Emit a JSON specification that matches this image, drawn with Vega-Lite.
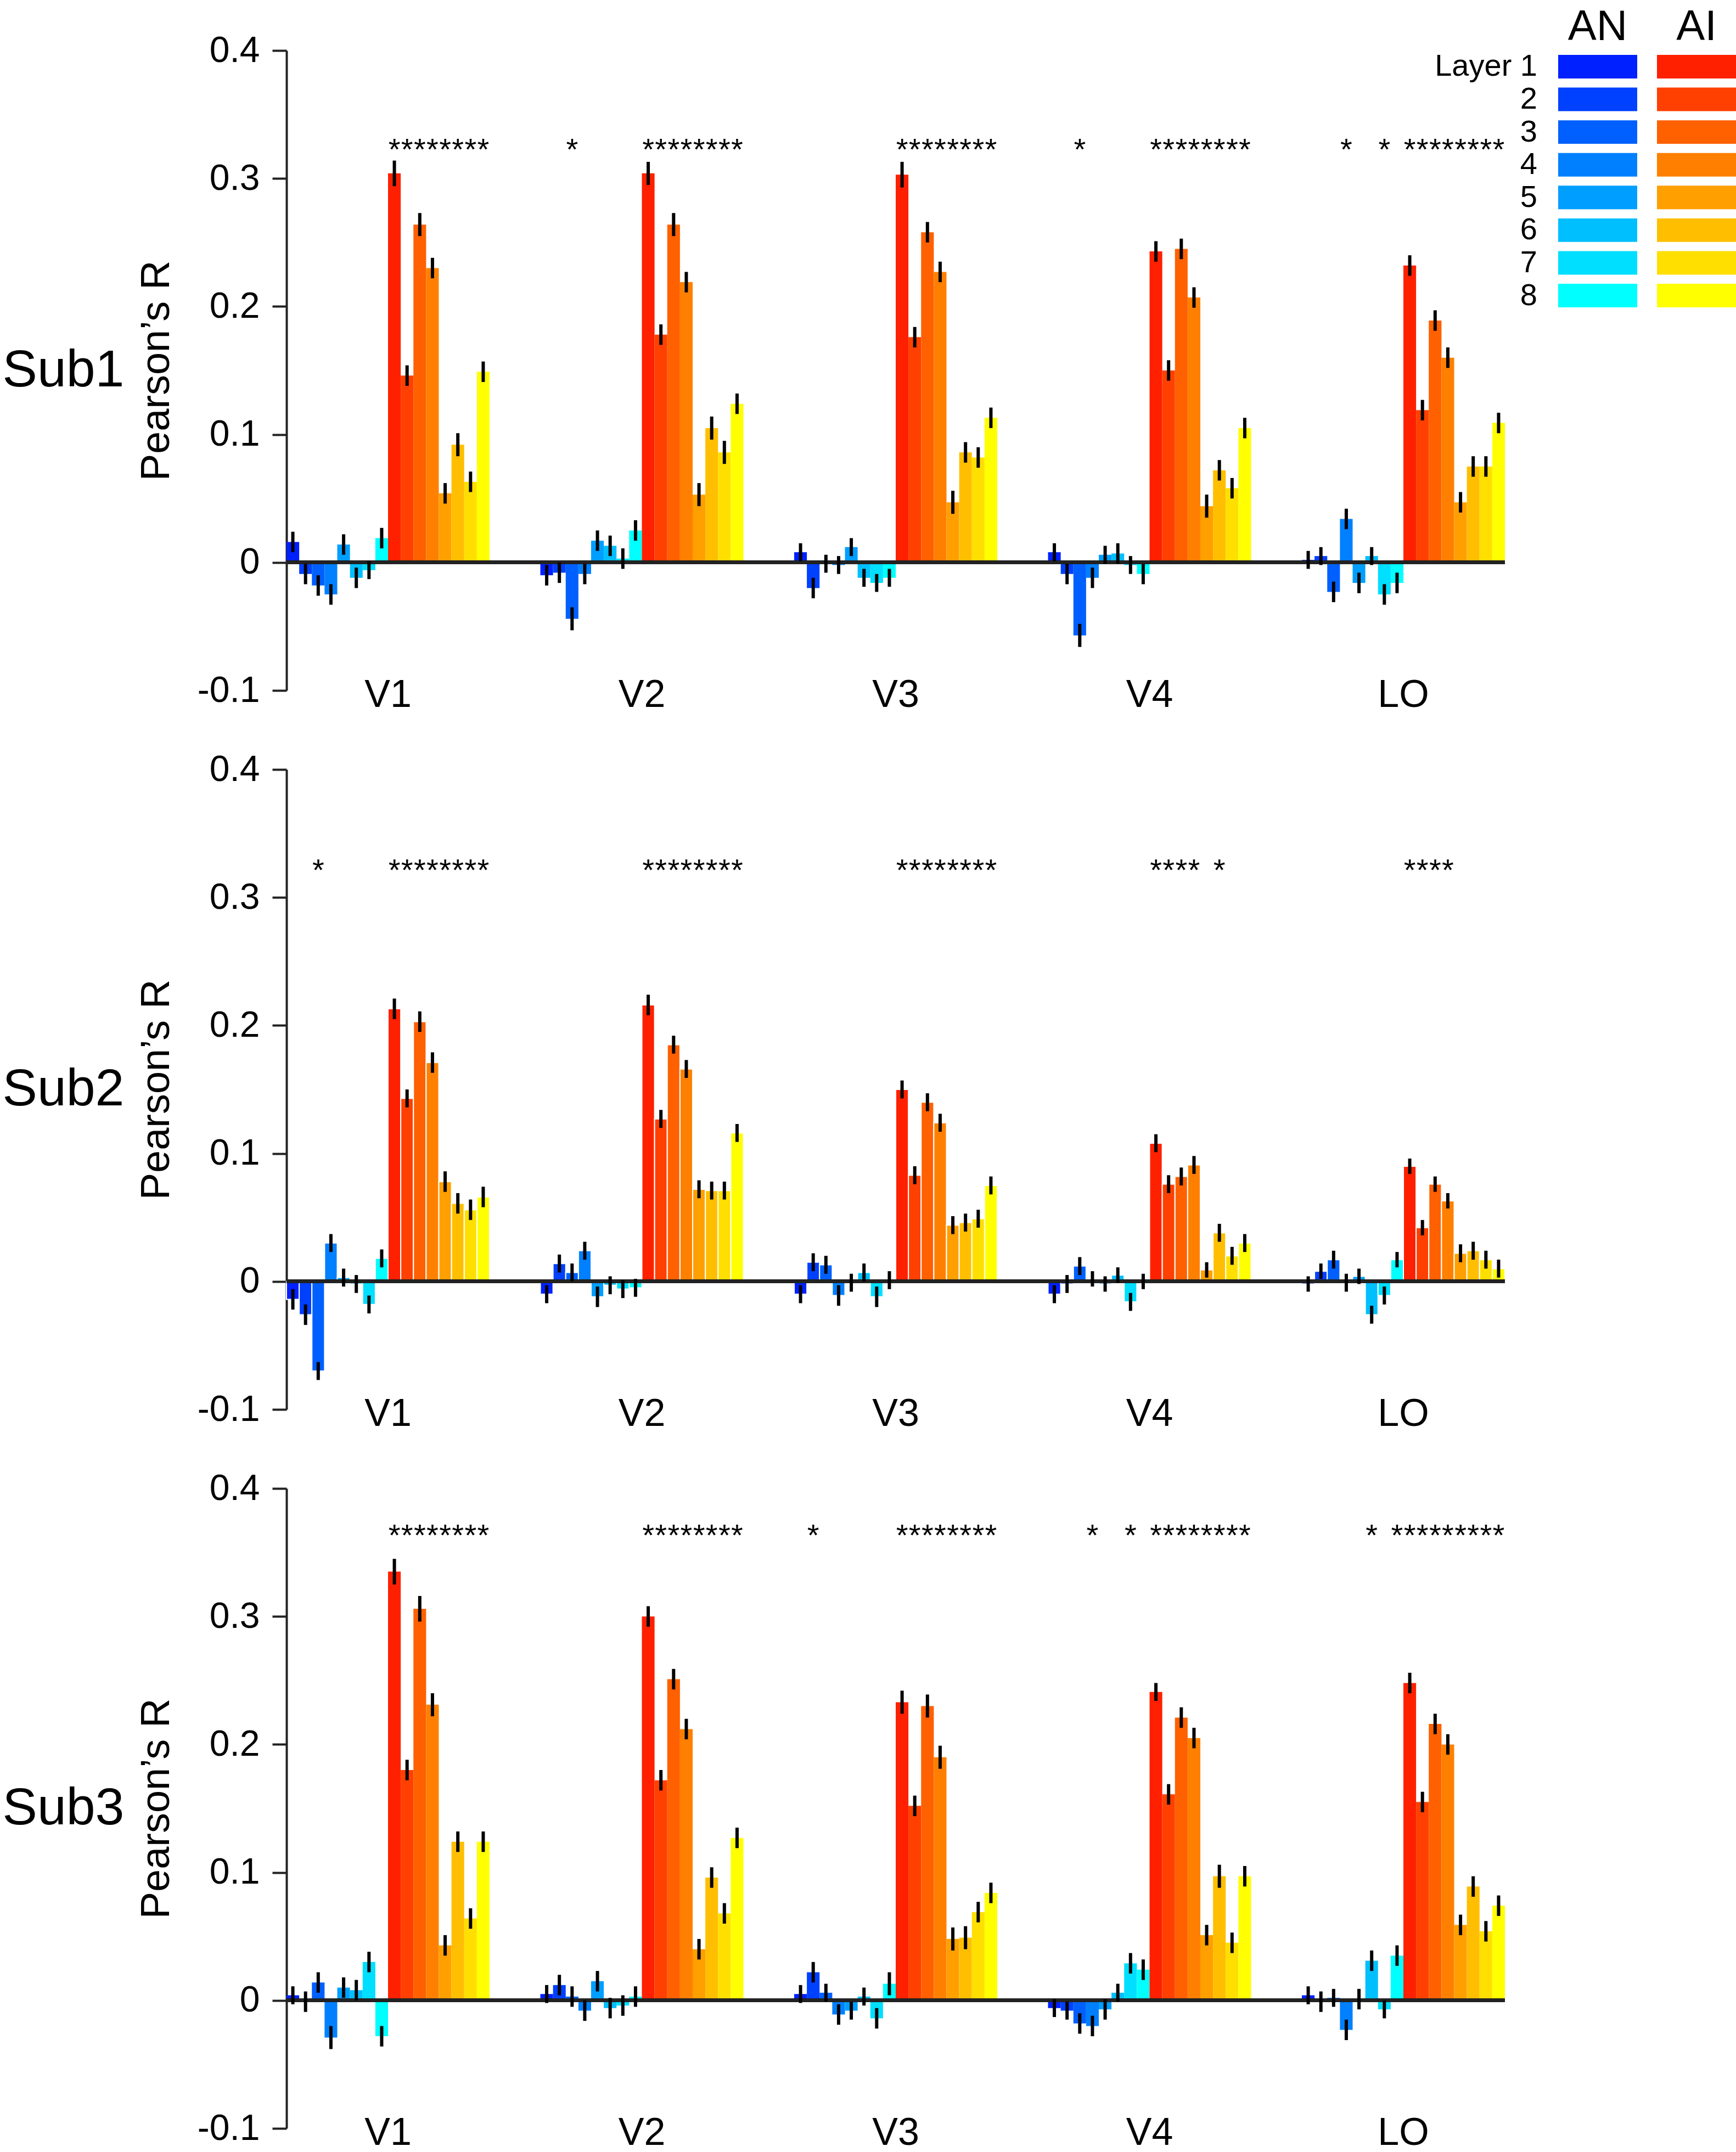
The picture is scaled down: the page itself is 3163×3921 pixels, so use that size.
{
"$schema": "https://vega.github.io/schema/vega-lite/v6.json",
"background": "white",
"padding": {"left": 4, "top": 10, "right": 5, "bottom": 5},
"config": {"font": "Liberation Sans", "view": {"stroke": null}, "text": {"font": "Liberation Sans", "color": "black"}},
"bounds": "flush",
"spacing": 144,
"datasets": {
"legend": [
{"m":"AN","l":1,"k":"AN1","lab":"Layer 1"},{"m":"AN","l":2,"k":"AN2","lab":"2"},{"m":"AN","l":3,"k":"AN3","lab":"3"},{"m":"AN","l":4,"k":"AN4","lab":"4"},
{"m":"AN","l":5,"k":"AN5","lab":"5"},{"m":"AN","l":6,"k":"AN6","lab":"6"},{"m":"AN","l":7,"k":"AN7","lab":"7"},{"m":"AN","l":8,"k":"AN8","lab":"8"},
{"m":"AI","l":1,"k":"AI1","lab":"Layer 1"},{"m":"AI","l":2,"k":"AI2","lab":"2"},{"m":"AI","l":3,"k":"AI3","lab":"3"},{"m":"AI","l":4,"k":"AI4","lab":"4"},
{"m":"AI","l":5,"k":"AI5","lab":"5"},{"m":"AI","l":6,"k":"AI6","lab":"6"},{"m":"AI","l":7,"k":"AI7","lab":"7"},{"m":"AI","l":8,"k":"AI8","lab":"8"}
],
"bars": [
{"s":1,"g":"V1","k":"AN1","r":0.016,"e":0.008,"sig":0},{"s":1,"g":"V1","k":"AN2","r":-0.009,"e":0.008,"sig":0},{"s":1,"g":"V1","k":"AN3","r":-0.018,"e":0.008,"sig":0},{"s":1,"g":"V1","k":"AN4","r":-0.025,"e":0.008,"sig":0},
{"s":1,"g":"V1","k":"AN5","r":0.014,"e":0.008,"sig":0},{"s":1,"g":"V1","k":"AN6","r":-0.012,"e":0.008,"sig":0},{"s":1,"g":"V1","k":"AN7","r":-0.006,"e":0.007,"sig":0},{"s":1,"g":"V1","k":"AN8","r":0.019,"e":0.008,"sig":0},
{"s":1,"g":"V1","k":"AI1","r":0.304,"e":0.010,"sig":1},{"s":1,"g":"V1","k":"AI2","r":0.146,"e":0.008,"sig":1},{"s":1,"g":"V1","k":"AI3","r":0.264,"e":0.009,"sig":1},{"s":1,"g":"V1","k":"AI4","r":0.230,"e":0.008,"sig":1},
{"s":1,"g":"V1","k":"AI5","r":0.054,"e":0.008,"sig":1},{"s":1,"g":"V1","k":"AI6","r":0.092,"e":0.009,"sig":1},{"s":1,"g":"V1","k":"AI7","r":0.063,"e":0.008,"sig":1},{"s":1,"g":"V1","k":"AI8","r":0.149,"e":0.008,"sig":1},
{"s":1,"g":"V2","k":"AN1","r":-0.010,"e":0.008,"sig":0},{"s":1,"g":"V2","k":"AN2","r":-0.008,"e":0.008,"sig":0},{"s":1,"g":"V2","k":"AN3","r":-0.044,"e":0.009,"sig":1},{"s":1,"g":"V2","k":"AN4","r":-0.009,"e":0.008,"sig":0},
{"s":1,"g":"V2","k":"AN5","r":0.017,"e":0.008,"sig":0},{"s":1,"g":"V2","k":"AN6","r":0.013,"e":0.008,"sig":0},{"s":1,"g":"V2","k":"AN7","r":0.003,"e":0.008,"sig":0},{"s":1,"g":"V2","k":"AN8","r":0.025,"e":0.008,"sig":0},
{"s":1,"g":"V2","k":"AI1","r":0.304,"e":0.009,"sig":1},{"s":1,"g":"V2","k":"AI2","r":0.178,"e":0.008,"sig":1},{"s":1,"g":"V2","k":"AI3","r":0.264,"e":0.009,"sig":1},{"s":1,"g":"V2","k":"AI4","r":0.219,"e":0.008,"sig":1},
{"s":1,"g":"V2","k":"AI5","r":0.053,"e":0.009,"sig":1},{"s":1,"g":"V2","k":"AI6","r":0.105,"e":0.009,"sig":1},{"s":1,"g":"V2","k":"AI7","r":0.086,"e":0.009,"sig":1},{"s":1,"g":"V2","k":"AI8","r":0.124,"e":0.008,"sig":1},
{"s":1,"g":"V3","k":"AN1","r":0.008,"e":0.007,"sig":0},{"s":1,"g":"V3","k":"AN2","r":-0.020,"e":0.008,"sig":0},{"s":1,"g":"V3","k":"AN3","r":-0.001,"e":0.007,"sig":0},{"s":1,"g":"V3","k":"AN4","r":-0.002,"e":0.007,"sig":0},
{"s":1,"g":"V3","k":"AN5","r":0.012,"e":0.007,"sig":0},{"s":1,"g":"V3","k":"AN6","r":-0.012,"e":0.007,"sig":0},{"s":1,"g":"V3","k":"AN7","r":-0.016,"e":0.007,"sig":0},{"s":1,"g":"V3","k":"AN8","r":-0.012,"e":0.007,"sig":0},
{"s":1,"g":"V3","k":"AI1","r":0.303,"e":0.010,"sig":1},{"s":1,"g":"V3","k":"AI2","r":0.176,"e":0.008,"sig":1},{"s":1,"g":"V3","k":"AI3","r":0.258,"e":0.008,"sig":1},{"s":1,"g":"V3","k":"AI4","r":0.227,"e":0.008,"sig":1},
{"s":1,"g":"V3","k":"AI5","r":0.047,"e":0.009,"sig":1},{"s":1,"g":"V3","k":"AI6","r":0.086,"e":0.008,"sig":1},{"s":1,"g":"V3","k":"AI7","r":0.082,"e":0.008,"sig":1},{"s":1,"g":"V3","k":"AI8","r":0.113,"e":0.008,"sig":1},
{"s":1,"g":"V4","k":"AN1","r":0.008,"e":0.007,"sig":0},{"s":1,"g":"V4","k":"AN2","r":-0.009,"e":0.008,"sig":0},{"s":1,"g":"V4","k":"AN3","r":-0.057,"e":0.009,"sig":1},{"s":1,"g":"V4","k":"AN4","r":-0.012,"e":0.008,"sig":0},
{"s":1,"g":"V4","k":"AN5","r":0.006,"e":0.007,"sig":0},{"s":1,"g":"V4","k":"AN6","r":0.007,"e":0.008,"sig":0},{"s":1,"g":"V4","k":"AN7","r":-0.002,"e":0.007,"sig":0},{"s":1,"g":"V4","k":"AN8","r":-0.009,"e":0.008,"sig":0},
{"s":1,"g":"V4","k":"AI1","r":0.243,"e":0.008,"sig":1},{"s":1,"g":"V4","k":"AI2","r":0.150,"e":0.008,"sig":1},{"s":1,"g":"V4","k":"AI3","r":0.245,"e":0.008,"sig":1},{"s":1,"g":"V4","k":"AI4","r":0.207,"e":0.008,"sig":1},
{"s":1,"g":"V4","k":"AI5","r":0.044,"e":0.009,"sig":1},{"s":1,"g":"V4","k":"AI6","r":0.072,"e":0.008,"sig":1},{"s":1,"g":"V4","k":"AI7","r":0.058,"e":0.008,"sig":1},{"s":1,"g":"V4","k":"AI8","r":0.105,"e":0.008,"sig":1},
{"s":1,"g":"LO","k":"AN1","r":0.002,"e":0.007,"sig":0},{"s":1,"g":"LO","k":"AN2","r":0.005,"e":0.007,"sig":0},{"s":1,"g":"LO","k":"AN3","r":-0.023,"e":0.008,"sig":0},{"s":1,"g":"LO","k":"AN4","r":0.034,"e":0.008,"sig":1},
{"s":1,"g":"LO","k":"AN5","r":-0.016,"e":0.008,"sig":0},{"s":1,"g":"LO","k":"AN6","r":0.005,"e":0.007,"sig":0},{"s":1,"g":"LO","k":"AN7","r":-0.025,"e":0.008,"sig":1},{"s":1,"g":"LO","k":"AN8","r":-0.016,"e":0.008,"sig":0},
{"s":1,"g":"LO","k":"AI1","r":0.232,"e":0.008,"sig":1},{"s":1,"g":"LO","k":"AI2","r":0.119,"e":0.008,"sig":1},{"s":1,"g":"LO","k":"AI3","r":0.189,"e":0.008,"sig":1},{"s":1,"g":"LO","k":"AI4","r":0.160,"e":0.008,"sig":1},
{"s":1,"g":"LO","k":"AI5","r":0.047,"e":0.008,"sig":1},{"s":1,"g":"LO","k":"AI6","r":0.075,"e":0.008,"sig":1},{"s":1,"g":"LO","k":"AI7","r":0.075,"e":0.008,"sig":1},{"s":1,"g":"LO","k":"AI8","r":0.109,"e":0.008,"sig":1},

{"s":2,"g":"V1","k":"AN1","r":-0.014,"e":0.008,"sig":0},{"s":2,"g":"V1","k":"AN2","r":-0.026,"e":0.008,"sig":0},{"s":2,"g":"V1","k":"AN3","r":-0.070,"e":0.007,"sig":1},{"s":2,"g":"V1","k":"AN4","r":0.030,"e":0.007,"sig":0},
{"s":2,"g":"V1","k":"AN5","r":0.003,"e":0.007,"sig":0},{"s":2,"g":"V1","k":"AN6","r":-0.002,"e":0.007,"sig":0},{"s":2,"g":"V1","k":"AN7","r":-0.018,"e":0.007,"sig":0},{"s":2,"g":"V1","k":"AN8","r":0.018,"e":0.007,"sig":0},
{"s":2,"g":"V1","k":"AI1","r":0.213,"e":0.008,"sig":1},{"s":2,"g":"V1","k":"AI2","r":0.143,"e":0.007,"sig":1},{"s":2,"g":"V1","k":"AI3","r":0.203,"e":0.008,"sig":1},{"s":2,"g":"V1","k":"AI4","r":0.171,"e":0.008,"sig":1},
{"s":2,"g":"V1","k":"AI5","r":0.078,"e":0.008,"sig":1},{"s":2,"g":"V1","k":"AI6","r":0.061,"e":0.008,"sig":1},{"s":2,"g":"V1","k":"AI7","r":0.056,"e":0.008,"sig":1},{"s":2,"g":"V1","k":"AI8","r":0.066,"e":0.008,"sig":1},
{"s":2,"g":"V2","k":"AN1","r":-0.010,"e":0.007,"sig":0},{"s":2,"g":"V2","k":"AN2","r":0.014,"e":0.007,"sig":0},{"s":2,"g":"V2","k":"AN3","r":0.007,"e":0.007,"sig":0},{"s":2,"g":"V2","k":"AN4","r":0.024,"e":0.007,"sig":0},
{"s":2,"g":"V2","k":"AN5","r":-0.012,"e":0.008,"sig":0},{"s":2,"g":"V2","k":"AN6","r":-0.003,"e":0.007,"sig":0},{"s":2,"g":"V2","k":"AN7","r":-0.006,"e":0.007,"sig":0},{"s":2,"g":"V2","k":"AN8","r":-0.005,"e":0.007,"sig":0},
{"s":2,"g":"V2","k":"AI1","r":0.216,"e":0.008,"sig":1},{"s":2,"g":"V2","k":"AI2","r":0.127,"e":0.007,"sig":1},{"s":2,"g":"V2","k":"AI3","r":0.185,"e":0.007,"sig":1},{"s":2,"g":"V2","k":"AI4","r":0.166,"e":0.007,"sig":1},
{"s":2,"g":"V2","k":"AI5","r":0.072,"e":0.007,"sig":1},{"s":2,"g":"V2","k":"AI6","r":0.071,"e":0.007,"sig":1},{"s":2,"g":"V2","k":"AI7","r":0.071,"e":0.007,"sig":1},{"s":2,"g":"V2","k":"AI8","r":0.116,"e":0.007,"sig":1},
{"s":2,"g":"V3","k":"AN1","r":-0.010,"e":0.007,"sig":0},{"s":2,"g":"V3","k":"AN2","r":0.015,"e":0.007,"sig":0},{"s":2,"g":"V3","k":"AN3","r":0.013,"e":0.007,"sig":0},{"s":2,"g":"V3","k":"AN4","r":-0.011,"e":0.008,"sig":0},
{"s":2,"g":"V3","k":"AN5","r":-0.001,"e":0.007,"sig":0},{"s":2,"g":"V3","k":"AN6","r":0.007,"e":0.007,"sig":0},{"s":2,"g":"V3","k":"AN7","r":-0.012,"e":0.008,"sig":0},{"s":2,"g":"V3","k":"AN8","r":0.001,"e":0.007,"sig":0},
{"s":2,"g":"V3","k":"AI1","r":0.150,"e":0.007,"sig":1},{"s":2,"g":"V3","k":"AI2","r":0.083,"e":0.007,"sig":1},{"s":2,"g":"V3","k":"AI3","r":0.140,"e":0.007,"sig":1},{"s":2,"g":"V3","k":"AI4","r":0.124,"e":0.007,"sig":1},
{"s":2,"g":"V3","k":"AI5","r":0.044,"e":0.007,"sig":1},{"s":2,"g":"V3","k":"AI6","r":0.046,"e":0.007,"sig":1},{"s":2,"g":"V3","k":"AI7","r":0.049,"e":0.007,"sig":1},{"s":2,"g":"V3","k":"AI8","r":0.075,"e":0.007,"sig":1},
{"s":2,"g":"V4","k":"AN1","r":-0.010,"e":0.007,"sig":0},{"s":2,"g":"V4","k":"AN2","r":-0.002,"e":0.007,"sig":0},{"s":2,"g":"V4","k":"AN3","r":0.012,"e":0.007,"sig":0},{"s":2,"g":"V4","k":"AN4","r":0.002,"e":0.006,"sig":0},
{"s":2,"g":"V4","k":"AN5","r":-0.002,"e":0.006,"sig":0},{"s":2,"g":"V4","k":"AN6","r":0.005,"e":0.006,"sig":0},{"s":2,"g":"V4","k":"AN7","r":-0.016,"e":0.007,"sig":0},{"s":2,"g":"V4","k":"AN8","r":0.000,"e":0.006,"sig":0},
{"s":2,"g":"V4","k":"AI1","r":0.108,"e":0.007,"sig":1},{"s":2,"g":"V4","k":"AI2","r":0.076,"e":0.007,"sig":1},{"s":2,"g":"V4","k":"AI3","r":0.082,"e":0.007,"sig":1},{"s":2,"g":"V4","k":"AI4","r":0.091,"e":0.007,"sig":1},
{"s":2,"g":"V4","k":"AI5","r":0.009,"e":0.006,"sig":0},{"s":2,"g":"V4","k":"AI6","r":0.038,"e":0.007,"sig":1},{"s":2,"g":"V4","k":"AI7","r":0.020,"e":0.007,"sig":0},{"s":2,"g":"V4","k":"AI8","r":0.030,"e":0.007,"sig":0},
{"s":2,"g":"LO","k":"AN1","r":-0.002,"e":0.006,"sig":0},{"s":2,"g":"LO","k":"AN2","r":0.008,"e":0.006,"sig":0},{"s":2,"g":"LO","k":"AN3","r":0.017,"e":0.007,"sig":0},{"s":2,"g":"LO","k":"AN4","r":-0.001,"e":0.007,"sig":0},
{"s":2,"g":"LO","k":"AN5","r":0.004,"e":0.006,"sig":0},{"s":2,"g":"LO","k":"AN6","r":-0.026,"e":0.007,"sig":0},{"s":2,"g":"LO","k":"AN7","r":-0.011,"e":0.007,"sig":0},{"s":2,"g":"LO","k":"AN8","r":0.017,"e":0.006,"sig":0},
{"s":2,"g":"LO","k":"AI1","r":0.090,"e":0.006,"sig":1},{"s":2,"g":"LO","k":"AI2","r":0.042,"e":0.006,"sig":1},{"s":2,"g":"LO","k":"AI3","r":0.076,"e":0.006,"sig":1},{"s":2,"g":"LO","k":"AI4","r":0.063,"e":0.006,"sig":1},
{"s":2,"g":"LO","k":"AI5","r":0.022,"e":0.007,"sig":0},{"s":2,"g":"LO","k":"AI6","r":0.024,"e":0.007,"sig":0},{"s":2,"g":"LO","k":"AI7","r":0.017,"e":0.007,"sig":0},{"s":2,"g":"LO","k":"AI8","r":0.010,"e":0.007,"sig":0},

{"s":3,"g":"V1","k":"AN1","r":0.004,"e":0.007,"sig":0},{"s":3,"g":"V1","k":"AN2","r":-0.001,"e":0.008,"sig":0},{"s":3,"g":"V1","k":"AN3","r":0.014,"e":0.008,"sig":0},{"s":3,"g":"V1","k":"AN4","r":-0.029,"e":0.009,"sig":0},
{"s":3,"g":"V1","k":"AN5","r":0.010,"e":0.008,"sig":0},{"s":3,"g":"V1","k":"AN6","r":0.008,"e":0.008,"sig":0},{"s":3,"g":"V1","k":"AN7","r":0.030,"e":0.008,"sig":0},{"s":3,"g":"V1","k":"AN8","r":-0.028,"e":0.008,"sig":0},
{"s":3,"g":"V1","k":"AI1","r":0.335,"e":0.010,"sig":1},{"s":3,"g":"V1","k":"AI2","r":0.180,"e":0.008,"sig":1},{"s":3,"g":"V1","k":"AI3","r":0.306,"e":0.010,"sig":1},{"s":3,"g":"V1","k":"AI4","r":0.231,"e":0.009,"sig":1},
{"s":3,"g":"V1","k":"AI5","r":0.043,"e":0.008,"sig":1},{"s":3,"g":"V1","k":"AI6","r":0.124,"e":0.008,"sig":1},{"s":3,"g":"V1","k":"AI7","r":0.064,"e":0.008,"sig":1},{"s":3,"g":"V1","k":"AI8","r":0.124,"e":0.008,"sig":1},
{"s":3,"g":"V2","k":"AN1","r":0.005,"e":0.007,"sig":0},{"s":3,"g":"V2","k":"AN2","r":0.012,"e":0.008,"sig":0},{"s":3,"g":"V2","k":"AN3","r":0.003,"e":0.008,"sig":0},{"s":3,"g":"V2","k":"AN4","r":-0.008,"e":0.008,"sig":0},
{"s":3,"g":"V2","k":"AN5","r":0.015,"e":0.008,"sig":0},{"s":3,"g":"V2","k":"AN6","r":-0.006,"e":0.008,"sig":0},{"s":3,"g":"V2","k":"AN7","r":-0.004,"e":0.008,"sig":0},{"s":3,"g":"V2","k":"AN8","r":0.003,"e":0.008,"sig":0},
{"s":3,"g":"V2","k":"AI1","r":0.300,"e":0.008,"sig":1},{"s":3,"g":"V2","k":"AI2","r":0.172,"e":0.008,"sig":1},{"s":3,"g":"V2","k":"AI3","r":0.251,"e":0.008,"sig":1},{"s":3,"g":"V2","k":"AI4","r":0.212,"e":0.008,"sig":1},
{"s":3,"g":"V2","k":"AI5","r":0.040,"e":0.008,"sig":1},{"s":3,"g":"V2","k":"AI6","r":0.096,"e":0.008,"sig":1},{"s":3,"g":"V2","k":"AI7","r":0.068,"e":0.008,"sig":1},{"s":3,"g":"V2","k":"AI8","r":0.127,"e":0.008,"sig":1},
{"s":3,"g":"V3","k":"AN1","r":0.005,"e":0.007,"sig":0},{"s":3,"g":"V3","k":"AN2","r":0.022,"e":0.008,"sig":1},{"s":3,"g":"V3","k":"AN3","r":0.006,"e":0.007,"sig":0},{"s":3,"g":"V3","k":"AN4","r":-0.011,"e":0.008,"sig":0},
{"s":3,"g":"V3","k":"AN5","r":-0.008,"e":0.007,"sig":0},{"s":3,"g":"V3","k":"AN6","r":0.003,"e":0.007,"sig":0},{"s":3,"g":"V3","k":"AN7","r":-0.014,"e":0.008,"sig":0},{"s":3,"g":"V3","k":"AN8","r":0.013,"e":0.009,"sig":0},
{"s":3,"g":"V3","k":"AI1","r":0.233,"e":0.009,"sig":1},{"s":3,"g":"V3","k":"AI2","r":0.152,"e":0.008,"sig":1},{"s":3,"g":"V3","k":"AI3","r":0.230,"e":0.009,"sig":1},{"s":3,"g":"V3","k":"AI4","r":0.190,"e":0.009,"sig":1},
{"s":3,"g":"V3","k":"AI5","r":0.048,"e":0.009,"sig":1},{"s":3,"g":"V3","k":"AI6","r":0.049,"e":0.009,"sig":1},{"s":3,"g":"V3","k":"AI7","r":0.069,"e":0.008,"sig":1},{"s":3,"g":"V3","k":"AI8","r":0.084,"e":0.008,"sig":1},
{"s":3,"g":"V4","k":"AN1","r":-0.006,"e":0.007,"sig":0},{"s":3,"g":"V4","k":"AN2","r":-0.008,"e":0.007,"sig":0},{"s":3,"g":"V4","k":"AN3","r":-0.018,"e":0.008,"sig":0},{"s":3,"g":"V4","k":"AN4","r":-0.020,"e":0.008,"sig":1},
{"s":3,"g":"V4","k":"AN5","r":-0.007,"e":0.008,"sig":0},{"s":3,"g":"V4","k":"AN6","r":0.006,"e":0.007,"sig":0},{"s":3,"g":"V4","k":"AN7","r":0.029,"e":0.008,"sig":1},{"s":3,"g":"V4","k":"AN8","r":0.024,"e":0.008,"sig":0},
{"s":3,"g":"V4","k":"AI1","r":0.241,"e":0.007,"sig":1},{"s":3,"g":"V4","k":"AI2","r":0.161,"e":0.008,"sig":1},{"s":3,"g":"V4","k":"AI3","r":0.221,"e":0.008,"sig":1},{"s":3,"g":"V4","k":"AI4","r":0.205,"e":0.008,"sig":1},
{"s":3,"g":"V4","k":"AI5","r":0.051,"e":0.008,"sig":1},{"s":3,"g":"V4","k":"AI6","r":0.097,"e":0.009,"sig":1},{"s":3,"g":"V4","k":"AI7","r":0.045,"e":0.008,"sig":1},{"s":3,"g":"V4","k":"AI8","r":0.097,"e":0.008,"sig":1},
{"s":3,"g":"LO","k":"AN1","r":0.004,"e":0.007,"sig":0},{"s":3,"g":"LO","k":"AN2","r":-0.001,"e":0.008,"sig":0},{"s":3,"g":"LO","k":"AN3","r":0.002,"e":0.007,"sig":0},{"s":3,"g":"LO","k":"AN4","r":-0.023,"e":0.008,"sig":0},
{"s":3,"g":"LO","k":"AN5","r":0.001,"e":0.008,"sig":0},{"s":3,"g":"LO","k":"AN6","r":0.031,"e":0.008,"sig":1},{"s":3,"g":"LO","k":"AN7","r":-0.007,"e":0.007,"sig":0},{"s":3,"g":"LO","k":"AN8","r":0.035,"e":0.008,"sig":1},
{"s":3,"g":"LO","k":"AI1","r":0.248,"e":0.008,"sig":1},{"s":3,"g":"LO","k":"AI2","r":0.155,"e":0.008,"sig":1},{"s":3,"g":"LO","k":"AI3","r":0.216,"e":0.008,"sig":1},{"s":3,"g":"LO","k":"AI4","r":0.200,"e":0.008,"sig":1},
{"s":3,"g":"LO","k":"AI5","r":0.059,"e":0.008,"sig":1},{"s":3,"g":"LO","k":"AI6","r":0.089,"e":0.008,"sig":1},{"s":3,"g":"LO","k":"AI7","r":0.054,"e":0.008,"sig":1},{"s":3,"g":"LO","k":"AI8","r":0.074,"e":0.008,"sig":1}
]
},
"vconcat": [
{
"width": 2220, "height": 1166,
"title": {"text": "Sub1", "orient": "left", "angle": 0, "fontSize": 95, "fontWeight": "normal", "font": "Liberation Sans", "align": "right", "baseline": "middle", "anchor": "middle", "offset": -200, "color": "black"},
"resolve": {"scale": {"x": "independent", "y": "independent"}, "axis": {"x": "independent", "y": "independent"}},
"layer": [
{
"data": {"name": "bars"},
"transform": [{"filter": "datum.s == 1"}],
"layer": [
{"mark": {"type": "bar"},
 "encoding": {
  "x": {"field": "g", "type": "nominal", "sort": ["V1","V2","V3","V4","LO"], "scale": {"paddingInner": 0.2, "paddingOuter": 0}, "axis": {"orient": "bottom", "title": null, "domain": false, "ticks": false, "labelAngle": 0, "labelFontSize": 70, "labelFont": "Liberation Sans", "labelColor": "black", "labelPadding": -26}},
  "xOffset": {"field": "k", "type": "nominal", "sort": ["AN1","AN2","AN3","AN4","AN5","AN6","AN7","AN8","AI1","AI2","AI3","AI4","AI5","AI6","AI7","AI8"], "scale": {"paddingInner": 0, "paddingOuter": 0}},
  "y": {"field": "r", "type": "quantitative", "scale": {"domain": [-0.1, 0.4], "nice": false}, "axis": {"values": [-0.1,0,0.1,0.2,0.3,0.4], "labelExpr": "datum.value == 0 ? '0' : (datum.value < 0 ? '-' : '') + format(abs(datum.value), '.1f')", "title": "Pearson’s R", "titleFontSize": 74, "titleFontWeight": "normal", "titleFont": "Liberation Sans", "titleColor": "black", "titlePadding": 36, "labelFontSize": 66, "labelFont": "Liberation Sans", "labelColor": "black", "labelPadding": 23, "tickSize": 26, "tickWidth": 4, "tickColor": "#222", "domainWidth": 4, "domainColor": "#222", "grid": false}},
  "color": {"field": "k", "type": "nominal", "scale": {"domain": ["AN1","AN2","AN3","AN4","AN5","AN6","AN7","AN8","AI1","AI2","AI3","AI4","AI5","AI6","AI7","AI8"], "range": ["#0020FF","#0040FF","#0060FF","#0080FF","#009FFF","#00BFFF","#00DFFF","#00FFFF","#FF2000","#FF4000","#FF6000","#FF8000","#FF9F00","#FFBF00","#FFDF00","#FFFF00"]}, "legend": null}
 }},
{"mark": {"type": "rule", "color": "#222", "strokeWidth": 6},
 "encoding": {"y": {"datum": 0}}},
{"mark": {"type": "errorbar", "color": "black", "rule": {"strokeWidth": 6}},
 "encoding": {
  "x": {"field": "g", "type": "nominal", "sort": ["V1","V2","V3","V4","LO"]},
  "xOffset": {"field": "k", "type": "nominal", "sort": ["AN1","AN2","AN3","AN4","AN5","AN6","AN7","AN8","AI1","AI2","AI3","AI4","AI5","AI6","AI7","AI8"]},
  "y": {"field": "r", "type": "quantitative", "title": "Pearson’s R"},
  "yError": {"field": "e"}
 }},
{"transform": [{"filter": "datum.sig == 1"}],
 "mark": {"type": "text", "text": "*", "fontSize": 56, "baseline": "alphabetic", "align": "center", "color": "black"},
 "encoding": {
  "x": {"field": "g", "type": "nominal", "sort": ["V1","V2","V3","V4","LO"]},
  "xOffset": {"field": "k", "type": "nominal", "sort": ["AN1","AN2","AN3","AN4","AN5","AN6","AN7","AN8","AI1","AI2","AI3","AI4","AI5","AI6","AI7","AI8"]},
  "y": {"datum": 0.3145}
 }}
]
},
{
"data": {"name": "legend"},
"layer": [
{"mark": {"type": "rect"},
 "encoding": {
  "x": {"field": "m", "type": "nominal", "sort": ["AN","AI"], "scale": {"domain": ["AN","AI"], "range": [2317, 2641], "paddingInner": 0.2, "paddingOuter": 0}, "axis": {"orient": "top", "title": null, "domain": false, "ticks": false, "labelAngle": 0, "labelFontSize": 78, "labelFont": "Liberation Sans", "labelColor": "black", "labelPadding": 4}},
  "y": {"field": "l", "type": "ordinal", "scale": {"range": [8, 468], "paddingInner": 0.28, "paddingOuter": 0}, "axis": null},
  "color": {"field": "k", "type": "nominal", "legend": null}
 }},
{"transform": [{"filter": "datum.m == 'AN'"}],
 "mark": {"type": "text", "align": "right", "baseline": "middle", "dx": -38, "fontSize": 56, "color": "black"},
 "encoding": {
  "x": {"field": "m", "type": "nominal", "sort": ["AN","AI"], "bandPosition": 0},
  "y": {"field": "l", "type": "ordinal"},
  "text": {"field": "lab"}
 }}
]
}
]
},
{
"width": 2220, "height": 1166,
"title": {"text": "Sub2", "orient": "left", "angle": 0, "fontSize": 95, "fontWeight": "normal", "font": "Liberation Sans", "align": "right", "baseline": "middle", "anchor": "middle", "offset": -200, "color": "black"},
"data": {"name": "bars"},
"transform": [{"filter": "datum.s == 2"}],
"layer": [
{"mark": {"type": "bar", "stroke": "white", "strokeWidth": 2},
 "encoding": {
  "x": {"field": "g", "type": "nominal", "sort": ["V1","V2","V3","V4","LO"], "scale": {"paddingInner": 0.2, "paddingOuter": 0}, "axis": {"orient": "bottom", "title": null, "domain": false, "ticks": false, "labelAngle": 0, "labelFontSize": 70, "labelFont": "Liberation Sans", "labelColor": "black", "labelPadding": -26}},
  "xOffset": {"field": "k", "type": "nominal", "sort": ["AN1","AN2","AN3","AN4","AN5","AN6","AN7","AN8","AI1","AI2","AI3","AI4","AI5","AI6","AI7","AI8"], "scale": {"paddingInner": 0, "paddingOuter": 0}},
  "y": {"field": "r", "type": "quantitative", "scale": {"domain": [-0.1, 0.4], "nice": false}, "axis": {"values": [-0.1,0,0.1,0.2,0.3,0.4], "labelExpr": "datum.value == 0 ? '0' : (datum.value < 0 ? '-' : '') + format(abs(datum.value), '.1f')", "title": "Pearson’s R", "titleFontSize": 74, "titleFontWeight": "normal", "titleFont": "Liberation Sans", "titleColor": "black", "titlePadding": 36, "labelFontSize": 66, "labelFont": "Liberation Sans", "labelColor": "black", "labelPadding": 23, "tickSize": 26, "tickWidth": 4, "tickColor": "#222", "domainWidth": 4, "domainColor": "#222", "grid": false}},
  "color": {"field": "k", "type": "nominal", "scale": {"domain": ["AN1","AN2","AN3","AN4","AN5","AN6","AN7","AN8","AI1","AI2","AI3","AI4","AI5","AI6","AI7","AI8"], "range": ["#0020FF","#0040FF","#0060FF","#0080FF","#009FFF","#00BFFF","#00DFFF","#00FFFF","#FF2000","#FF4000","#FF6000","#FF8000","#FF9F00","#FFBF00","#FFDF00","#FFFF00"]}, "legend": null}
 }},
{"mark": {"type": "rule", "color": "#222", "strokeWidth": 6},
 "encoding": {"y": {"datum": 0}}},
{"mark": {"type": "errorbar", "color": "black", "rule": {"strokeWidth": 6}},
 "encoding": {
  "x": {"field": "g", "type": "nominal", "sort": ["V1","V2","V3","V4","LO"]},
  "xOffset": {"field": "k", "type": "nominal", "sort": ["AN1","AN2","AN3","AN4","AN5","AN6","AN7","AN8","AI1","AI2","AI3","AI4","AI5","AI6","AI7","AI8"]},
  "y": {"field": "r", "type": "quantitative", "title": "Pearson’s R"},
  "yError": {"field": "e"}
 }},
{"transform": [{"filter": "datum.sig == 1"}],
 "mark": {"type": "text", "text": "*", "fontSize": 56, "baseline": "alphabetic", "align": "center", "color": "black"},
 "encoding": {
  "x": {"field": "g", "type": "nominal", "sort": ["V1","V2","V3","V4","LO"]},
  "xOffset": {"field": "k", "type": "nominal", "sort": ["AN1","AN2","AN3","AN4","AN5","AN6","AN7","AN8","AI1","AI2","AI3","AI4","AI5","AI6","AI7","AI8"]},
  "y": {"datum": 0.3135}
 }}
]
},
{
"width": 2220, "height": 1166,
"title": {"text": "Sub3", "orient": "left", "angle": 0, "fontSize": 95, "fontWeight": "normal", "font": "Liberation Sans", "align": "right", "baseline": "middle", "anchor": "middle", "offset": -200, "color": "black"},
"data": {"name": "bars"},
"transform": [{"filter": "datum.s == 3"}],
"layer": [
{"mark": {"type": "bar"},
 "encoding": {
  "x": {"field": "g", "type": "nominal", "sort": ["V1","V2","V3","V4","LO"], "scale": {"paddingInner": 0.2, "paddingOuter": 0}, "axis": {"orient": "bottom", "title": null, "domain": false, "ticks": false, "labelAngle": 0, "labelFontSize": 70, "labelFont": "Liberation Sans", "labelColor": "black", "labelPadding": -26}},
  "xOffset": {"field": "k", "type": "nominal", "sort": ["AN1","AN2","AN3","AN4","AN5","AN6","AN7","AN8","AI1","AI2","AI3","AI4","AI5","AI6","AI7","AI8"], "scale": {"paddingInner": 0, "paddingOuter": 0}},
  "y": {"field": "r", "type": "quantitative", "scale": {"domain": [-0.1, 0.4], "nice": false}, "axis": {"values": [-0.1,0,0.1,0.2,0.3,0.4], "labelExpr": "datum.value == 0 ? '0' : (datum.value < 0 ? '-' : '') + format(abs(datum.value), '.1f')", "title": "Pearson’s R", "titleFontSize": 74, "titleFontWeight": "normal", "titleFont": "Liberation Sans", "titleColor": "black", "titlePadding": 36, "labelFontSize": 66, "labelFont": "Liberation Sans", "labelColor": "black", "labelPadding": 23, "tickSize": 26, "tickWidth": 4, "tickColor": "#222", "domainWidth": 4, "domainColor": "#222", "grid": false}},
  "color": {"field": "k", "type": "nominal", "scale": {"domain": ["AN1","AN2","AN3","AN4","AN5","AN6","AN7","AN8","AI1","AI2","AI3","AI4","AI5","AI6","AI7","AI8"], "range": ["#0020FF","#0040FF","#0060FF","#0080FF","#009FFF","#00BFFF","#00DFFF","#00FFFF","#FF2000","#FF4000","#FF6000","#FF8000","#FF9F00","#FFBF00","#FFDF00","#FFFF00"]}, "legend": null}
 }},
{"mark": {"type": "rule", "color": "#222", "strokeWidth": 6},
 "encoding": {"y": {"datum": 0}}},
{"mark": {"type": "errorbar", "color": "black", "rule": {"strokeWidth": 6}},
 "encoding": {
  "x": {"field": "g", "type": "nominal", "sort": ["V1","V2","V3","V4","LO"]},
  "xOffset": {"field": "k", "type": "nominal", "sort": ["AN1","AN2","AN3","AN4","AN5","AN6","AN7","AN8","AI1","AI2","AI3","AI4","AI5","AI6","AI7","AI8"]},
  "y": {"field": "r", "type": "quantitative", "title": "Pearson’s R"},
  "yError": {"field": "e"}
 }},
{"transform": [{"filter": "datum.sig == 1"}],
 "mark": {"type": "text", "text": "*", "fontSize": 56, "baseline": "alphabetic", "align": "center", "color": "black"},
 "encoding": {
  "x": {"field": "g", "type": "nominal", "sort": ["V1","V2","V3","V4","LO"]},
  "xOffset": {"field": "k", "type": "nominal", "sort": ["AN1","AN2","AN3","AN4","AN5","AN6","AN7","AN8","AI1","AI2","AI3","AI4","AI5","AI6","AI7","AI8"]},
  "y": {"datum": 0.3555}
 }}
]
}
]
}
